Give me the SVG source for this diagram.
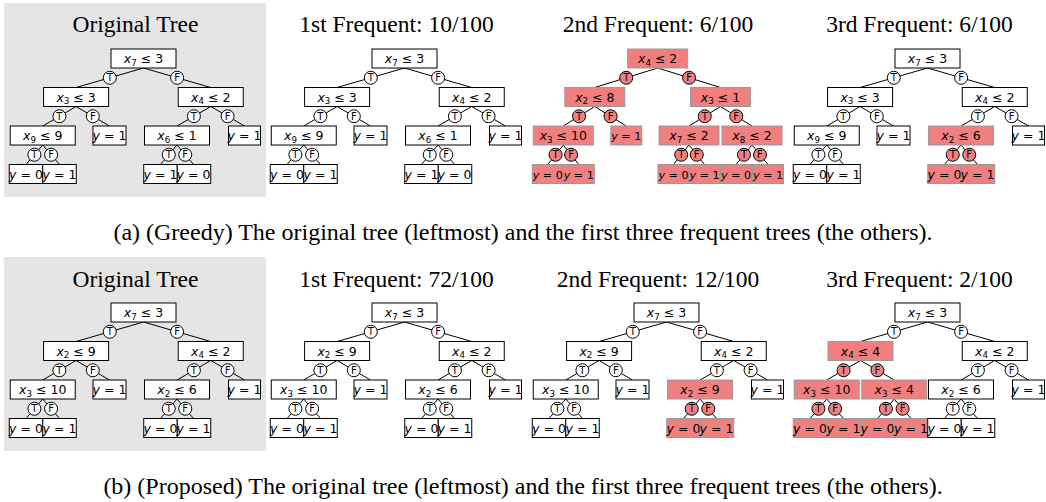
<svg xmlns="http://www.w3.org/2000/svg" width="1046" height="502" viewBox="0 0 1046 502">
<defs>
<style>
.bg{fill:#e5e5e5}
.bx{fill:#fff;stroke:#000;stroke-width:1}
.rb{fill:#f08080;stroke:#999;stroke-width:1}
.c{fill:#fff;stroke:#000;stroke-width:1}
.rc{fill:#f08080;stroke:#000;stroke-width:1}
.ln{stroke:#000;stroke-width:1}
.t{font-family:"DejaVu Sans",sans-serif;font-size:12.5px;text-anchor:middle;fill:#000}
.tn{font-size:11.2px}
.i{font-style:italic}
.s{font-size:8.7px}
.lb{font-family:"DejaVu Sans",sans-serif;font-size:10px;text-anchor:middle;fill:#000}
.ti{font-family:"Liberation Serif","Times New Roman",serif;font-size:23.5px;text-anchor:middle;fill:#000}
.cap{font-family:"Liberation Serif","Times New Roman",serif;font-size:24px;text-anchor:middle;fill:#000}
</style>
<g id="std-edges">
<line class="ln" x1="143.5" y1="68" x2="76.1" y2="87.5"/><line class="ln" x1="143.5" y1="68" x2="210.75" y2="87.5"/>
<line class="ln" x1="76.1" y1="106.5" x2="42.75" y2="126"/><line class="ln" x1="76.1" y1="106.5" x2="109.5" y2="126"/>
<line class="ln" x1="210.75" y1="106.5" x2="177" y2="126"/><line class="ln" x1="210.75" y1="106.5" x2="244.5" y2="126"/>
<line class="ln" x1="42.75" y1="145" x2="26" y2="164.5"/><line class="ln" x1="42.75" y1="145" x2="59.5" y2="164.5"/>
<line class="ln" x1="177" y1="145" x2="160.5" y2="164.5"/><line class="ln" x1="177" y1="145" x2="193.5" y2="164.5"/>
</g>
</defs>
<rect class="bg" x="4" y="3" width="262" height="194"/>
<rect class="bg" x="4" y="257" width="262" height="194"/>
<g id="titles">
<text class="ti" x="135.5" y="32">Original Tree</text>
<text class="ti" x="396.5" y="32">1st Frequent: 10/100</text>
<text class="ti" x="658" y="32">2nd Frequent: 6/100</text>
<text class="ti" x="919.5" y="32">3rd Frequent: 6/100</text>
<text class="ti" x="135.5" y="286.5">Original Tree</text>
<text class="ti" x="396.5" y="286.5">1st Frequent: 72/100</text>
<text class="ti" x="658" y="286.5">2nd Frequent: 12/100</text>
<text class="ti" x="919.5" y="286.5">3rd Frequent: 2/100</text>
<text class="cap" x="523" y="240">(a) (Greedy) The original tree (leftmost) and the first three frequent trees (the others).</text>
<text class="cap" x="523" y="494">(b) (Proposed) The original tree (leftmost) and the first three frequent trees (the others).</text>
</g>

<!-- Panel A1 -->
<g id="panel-a1">
<g id="a1-connectors">
<use href="#std-edges"/>
<circle class="c" cx="109.8" cy="77.75" r="6.5"/><text class="lb" x="109.8" y="81.4">T</text>
<circle class="c" cx="177.1" cy="77.75" r="6.5"/><text class="lb" x="177.1" y="81.4">F</text>
<circle class="c" cx="59.4" cy="116.25" r="6.5"/><text class="lb" x="59.4" y="119.9">T</text>
<circle class="c" cx="92.8" cy="116.25" r="6.5"/><text class="lb" x="92.8" y="119.9">F</text>
<circle class="c" cx="193.9" cy="116.25" r="6.5"/><text class="lb" x="193.9" y="119.9">T</text>
<circle class="c" cx="227.6" cy="116.25" r="6.5"/><text class="lb" x="227.6" y="119.9">F</text>
<circle class="c" cx="34.4" cy="154.75" r="6.5"/><text class="lb" x="34.4" y="158.4">T</text>
<circle class="c" cx="51.1" cy="154.75" r="6.5"/><text class="lb" x="51.1" y="158.4">F</text>
<circle class="c" cx="168.75" cy="154.75" r="6.5"/><text class="lb" x="168.75" y="158.4">T</text>
<circle class="c" cx="185.25" cy="154.75" r="6.5"/><text class="lb" x="185.25" y="158.4">F</text>
</g>
<g id="a1-root"><rect class="bx" x="111" y="49" width="65" height="19"/><text class="t" x="143.5" y="63"><tspan class="i">x</tspan><tspan class="s" dy="2.5">7</tspan><tspan dy="-2.5"> ≤ 3</tspan></text></g>
<g id="a1-n1"><rect class="bx" x="43.6" y="87.5" width="65" height="19"/><text class="t" x="76.1" y="101.5"><tspan class="i">x</tspan><tspan class="s" dy="2.5">3</tspan><tspan dy="-2.5"> ≤ 3</tspan></text></g>
<g id="a1-n2"><rect class="bx" x="178.25" y="87.5" width="65" height="19"/><text class="t" x="210.75" y="101.5"><tspan class="i">x</tspan><tspan class="s" dy="2.5">4</tspan><tspan dy="-2.5"> ≤ 2</tspan></text></g>
<g id="a1-n3"><rect class="bx" x="10.25" y="126" width="65" height="19"/><text class="t" x="42.75" y="140"><tspan class="i">x</tspan><tspan class="s" dy="2.5">9</tspan><tspan dy="-2.5"> ≤ 9</tspan></text></g>
<g id="a1-n4"><rect class="bx" x="93" y="126" width="33" height="19"/><text class="t" x="109.5" y="140"><tspan class="i">y</tspan> = 1</text></g>
<g id="a1-n5"><rect class="bx" x="144.5" y="126" width="65" height="19"/><text class="t" x="177" y="140"><tspan class="i">x</tspan><tspan class="s" dy="2.5">6</tspan><tspan dy="-2.5"> ≤ 1</tspan></text></g>
<g id="a1-n6"><rect class="bx" x="228.5" y="126" width="32" height="19"/><text class="t" x="244.5" y="140"><tspan class="i">y</tspan> = 1</text></g>
<g id="a1-n7"><rect class="bx" x="9.25" y="164.5" width="33.5" height="19"/><text class="t" x="26" y="178.5"><tspan class="i">y</tspan> = 0</text></g>
<g id="a1-n8"><rect class="bx" x="42.75" y="164.5" width="33.5" height="19"/><text class="t" x="59.5" y="178.5"><tspan class="i">y</tspan> = 1</text></g>
<g id="a1-n9"><rect class="bx" x="143.75" y="164.5" width="33.5" height="19"/><text class="t" x="160.5" y="178.5"><tspan class="i">y</tspan> = 1</text></g>
<g id="a1-n10"><rect class="bx" x="177.25" y="164.5" width="33.5" height="19"/><text class="t" x="193.5" y="178.5"><tspan class="i">y</tspan> = 0</text></g>
</g>

<!-- Panel A2 -->
<g id="panel-a2" transform="translate(261,0)">
<g id="a2-connectors">
<use href="#std-edges"/>
<circle class="c" cx="109.8" cy="77.75" r="6.5"/><text class="lb" x="109.8" y="81.4">T</text>
<circle class="c" cx="177.1" cy="77.75" r="6.5"/><text class="lb" x="177.1" y="81.4">F</text>
<circle class="c" cx="59.4" cy="116.25" r="6.5"/><text class="lb" x="59.4" y="119.9">T</text>
<circle class="c" cx="92.8" cy="116.25" r="6.5"/><text class="lb" x="92.8" y="119.9">F</text>
<circle class="c" cx="193.9" cy="116.25" r="6.5"/><text class="lb" x="193.9" y="119.9">T</text>
<circle class="c" cx="227.6" cy="116.25" r="6.5"/><text class="lb" x="227.6" y="119.9">F</text>
<circle class="c" cx="34.4" cy="154.75" r="6.5"/><text class="lb" x="34.4" y="158.4">T</text>
<circle class="c" cx="51.1" cy="154.75" r="6.5"/><text class="lb" x="51.1" y="158.4">F</text>
<circle class="c" cx="168.75" cy="154.75" r="6.5"/><text class="lb" x="168.75" y="158.4">T</text>
<circle class="c" cx="185.25" cy="154.75" r="6.5"/><text class="lb" x="185.25" y="158.4">F</text>
</g>
<g id="a2-root"><rect class="bx" x="111" y="49" width="65" height="19"/><text class="t" x="143.5" y="63"><tspan class="i">x</tspan><tspan class="s" dy="2.5">7</tspan><tspan dy="-2.5"> ≤ 3</tspan></text></g>
<g id="a2-n1"><rect class="bx" x="43.6" y="87.5" width="65" height="19"/><text class="t" x="76.1" y="101.5"><tspan class="i">x</tspan><tspan class="s" dy="2.5">3</tspan><tspan dy="-2.5"> ≤ 3</tspan></text></g>
<g id="a2-n2"><rect class="bx" x="178.25" y="87.5" width="65" height="19"/><text class="t" x="210.75" y="101.5"><tspan class="i">x</tspan><tspan class="s" dy="2.5">4</tspan><tspan dy="-2.5"> ≤ 2</tspan></text></g>
<g id="a2-n3"><rect class="bx" x="10.25" y="126" width="65" height="19"/><text class="t" x="42.75" y="140"><tspan class="i">x</tspan><tspan class="s" dy="2.5">9</tspan><tspan dy="-2.5"> ≤ 9</tspan></text></g>
<g id="a2-n4"><rect class="bx" x="93" y="126" width="33" height="19"/><text class="t" x="109.5" y="140"><tspan class="i">y</tspan> = 1</text></g>
<g id="a2-n5"><rect class="bx" x="144.5" y="126" width="65" height="19"/><text class="t" x="177" y="140"><tspan class="i">x</tspan><tspan class="s" dy="2.5">6</tspan><tspan dy="-2.5"> ≤ 1</tspan></text></g>
<g id="a2-n6"><rect class="bx" x="228.5" y="126" width="32" height="19"/><text class="t" x="244.5" y="140"><tspan class="i">y</tspan> = 1</text></g>
<g id="a2-n7"><rect class="bx" x="9.25" y="164.5" width="33.5" height="19"/><text class="t" x="26" y="178.5"><tspan class="i">y</tspan> = 0</text></g>
<g id="a2-n8"><rect class="bx" x="42.75" y="164.5" width="33.5" height="19"/><text class="t" x="59.5" y="178.5"><tspan class="i">y</tspan> = 1</text></g>
<g id="a2-n9"><rect class="bx" x="143.75" y="164.5" width="33.5" height="19"/><text class="t" x="160.5" y="178.5"><tspan class="i">y</tspan> = 1</text></g>
<g id="a2-n10"><rect class="bx" x="177.25" y="164.5" width="33.5" height="19"/><text class="t" x="193.5" y="178.5"><tspan class="i">y</tspan> = 0</text></g>
</g>

<!-- Panel A3 (all red) -->
<g id="panel-a3">
<g id="a3-connectors">
<line class="ln" x1="657.65" y1="68" x2="594.8" y2="87.5"/><line class="ln" x1="657.65" y1="68" x2="720.5" y2="87.5"/>
<line class="ln" x1="594.8" y1="106.5" x2="563.3" y2="126"/><line class="ln" x1="594.8" y1="106.5" x2="626.3" y2="126"/>
<line class="ln" x1="720.5" y1="106.5" x2="689" y2="126"/><line class="ln" x1="720.5" y1="106.5" x2="752" y2="126"/>
<line class="ln" x1="563.3" y1="145" x2="547.8" y2="164.5"/><line class="ln" x1="563.3" y1="145" x2="578.8" y2="164.5"/>
<line class="ln" x1="689" y1="145" x2="673.5" y2="164.5"/><line class="ln" x1="689" y1="145" x2="704.5" y2="164.5"/>
<line class="ln" x1="752" y1="145" x2="736" y2="164.5"/><line class="ln" x1="752" y1="145" x2="768" y2="164.5"/>
<circle class="rc" cx="626.2" cy="77.75" r="6.5"/><text class="lb" x="626.2" y="81.4">T</text>
<circle class="rc" cx="689.1" cy="77.75" r="6.5"/><text class="lb" x="689.1" y="81.4">F</text>
<circle class="rc" cx="579.05" cy="116.25" r="6.5"/><text class="lb" x="579.05" y="119.9">T</text>
<circle class="rc" cx="610.55" cy="116.25" r="6.5"/><text class="lb" x="610.55" y="119.9">F</text>
<circle class="rc" cx="704.75" cy="116.25" r="6.5"/><text class="lb" x="704.75" y="119.9">T</text>
<circle class="rc" cx="736.25" cy="116.25" r="6.5"/><text class="lb" x="736.25" y="119.9">F</text>
<circle class="rc" cx="555.55" cy="154.75" r="6.5"/><text class="lb" x="555.55" y="158.4">T</text>
<circle class="rc" cx="571.05" cy="154.75" r="6.5"/><text class="lb" x="571.05" y="158.4">F</text>
<circle class="rc" cx="681.25" cy="154.75" r="6.5"/><text class="lb" x="681.25" y="158.4">T</text>
<circle class="rc" cx="696.75" cy="154.75" r="6.5"/><text class="lb" x="696.75" y="158.4">F</text>
<circle class="rc" cx="744" cy="154.75" r="6.5"/><text class="lb" x="744" y="158.4">T</text>
<circle class="rc" cx="760" cy="154.75" r="6.5"/><text class="lb" x="760" y="158.4">F</text>
</g>
<g id="a3-root"><rect class="rb" x="627.65" y="49" width="60" height="19"/><text class="t" x="657.65" y="63"><tspan class="i">x</tspan><tspan class="s" dy="2.5">4</tspan><tspan dy="-2.5"> ≤ 2</tspan></text></g>
<g id="a3-n1"><rect class="rb" x="564.8" y="87.5" width="60" height="19"/><text class="t" x="594.8" y="101.5"><tspan class="i">x</tspan><tspan class="s" dy="2.5">2</tspan><tspan dy="-2.5"> ≤ 8</tspan></text></g>
<g id="a3-n2"><rect class="rb" x="690.5" y="87.5" width="60" height="19"/><text class="t" x="720.5" y="101.5"><tspan class="i">x</tspan><tspan class="s" dy="2.5">3</tspan><tspan dy="-2.5"> ≤ 1</tspan></text></g>
<g id="a3-n3"><rect class="rb" x="533.3" y="126" width="60" height="19"/><text class="t" x="563.3" y="140"><tspan class="i">x</tspan><tspan class="s" dy="2.5">3</tspan><tspan dy="-2.5"> ≤ 10</tspan></text></g>
<g id="a3-n4"><rect class="rb" x="610.8" y="126" width="31" height="19"/><text class="t tn" x="626.3" y="140"><tspan class="i">y</tspan> = 1</text></g>
<g id="a3-n5"><rect class="rb" x="659" y="126" width="60" height="19"/><text class="t" x="689" y="140"><tspan class="i">x</tspan><tspan class="s" dy="2.5">7</tspan><tspan dy="-2.5"> ≤ 2</tspan></text></g>
<g id="a3-n6"><rect class="rb" x="722" y="126" width="60" height="19"/><text class="t" x="752" y="140"><tspan class="i">x</tspan><tspan class="s" dy="2.5">8</tspan><tspan dy="-2.5"> ≤ 2</tspan></text></g>
<g id="a3-n7"><rect class="rb" x="532.3" y="164.5" width="31" height="19"/><text class="t tn" x="547.8" y="178.5"><tspan class="i">y</tspan> = 0</text></g>
<g id="a3-n8"><rect class="rb" x="563.3" y="164.5" width="31" height="19"/><text class="t tn" x="578.8" y="178.5"><tspan class="i">y</tspan> = 1</text></g>
<g id="a3-n9"><rect class="rb" x="658" y="164.5" width="31" height="19"/><text class="t tn" x="673.5" y="178.5"><tspan class="i">y</tspan> = 0</text></g>
<g id="a3-n10"><rect class="rb" x="689" y="164.5" width="31" height="19"/><text class="t tn" x="704.5" y="178.5"><tspan class="i">y</tspan> = 1</text></g>
<g id="a3-n11"><rect class="rb" x="720.5" y="164.5" width="31" height="19"/><text class="t tn" x="736" y="178.5"><tspan class="i">y</tspan> = 0</text></g>
<g id="a3-n12"><rect class="rb" x="752.5" y="164.5" width="31" height="19"/><text class="t tn" x="768" y="178.5"><tspan class="i">y</tspan> = 1</text></g>
</g>

<!-- Panel A4 -->
<g id="panel-a4" transform="translate(784,0)">
<g id="a4-connectors">
<use href="#std-edges"/>
<circle class="c" cx="109.8" cy="77.75" r="6.5"/><text class="lb" x="109.8" y="81.4">T</text>
<circle class="c" cx="177.1" cy="77.75" r="6.5"/><text class="lb" x="177.1" y="81.4">F</text>
<circle class="c" cx="59.4" cy="116.25" r="6.5"/><text class="lb" x="59.4" y="119.9">T</text>
<circle class="c" cx="92.8" cy="116.25" r="6.5"/><text class="lb" x="92.8" y="119.9">F</text>
<circle class="c" cx="193.9" cy="116.25" r="6.5"/><text class="lb" x="193.9" y="119.9">T</text>
<circle class="c" cx="227.6" cy="116.25" r="6.5"/><text class="lb" x="227.6" y="119.9">F</text>
<circle class="c" cx="34.4" cy="154.75" r="6.5"/><text class="lb" x="34.4" y="158.4">T</text>
<circle class="c" cx="51.1" cy="154.75" r="6.5"/><text class="lb" x="51.1" y="158.4">F</text>
<circle class="rc" cx="168.75" cy="154.75" r="6.5"/><text class="lb" x="168.75" y="158.4">T</text>
<circle class="rc" cx="185.25" cy="154.75" r="6.5"/><text class="lb" x="185.25" y="158.4">F</text>
</g>
<g id="a4-root"><rect class="bx" x="111" y="49" width="65" height="19"/><text class="t" x="143.5" y="63"><tspan class="i">x</tspan><tspan class="s" dy="2.5">7</tspan><tspan dy="-2.5"> ≤ 3</tspan></text></g>
<g id="a4-n1"><rect class="bx" x="43.6" y="87.5" width="65" height="19"/><text class="t" x="76.1" y="101.5"><tspan class="i">x</tspan><tspan class="s" dy="2.5">3</tspan><tspan dy="-2.5"> ≤ 3</tspan></text></g>
<g id="a4-n2"><rect class="bx" x="178.25" y="87.5" width="65" height="19"/><text class="t" x="210.75" y="101.5"><tspan class="i">x</tspan><tspan class="s" dy="2.5">4</tspan><tspan dy="-2.5"> ≤ 2</tspan></text></g>
<g id="a4-n3"><rect class="bx" x="10.25" y="126" width="65" height="19"/><text class="t" x="42.75" y="140"><tspan class="i">x</tspan><tspan class="s" dy="2.5">9</tspan><tspan dy="-2.5"> ≤ 9</tspan></text></g>
<g id="a4-n4"><rect class="bx" x="93" y="126" width="33" height="19"/><text class="t" x="109.5" y="140"><tspan class="i">y</tspan> = 1</text></g>
<g id="a4-n5"><rect class="rb" x="144.5" y="126" width="65" height="19"/><text class="t" x="177" y="140"><tspan class="i">x</tspan><tspan class="s" dy="2.5">2</tspan><tspan dy="-2.5"> ≤ 6</tspan></text></g>
<g id="a4-n6"><rect class="bx" x="228.5" y="126" width="32" height="19"/><text class="t" x="244.5" y="140"><tspan class="i">y</tspan> = 1</text></g>
<g id="a4-n7"><rect class="bx" x="9.25" y="164.5" width="33.5" height="19"/><text class="t" x="26" y="178.5"><tspan class="i">y</tspan> = 0</text></g>
<g id="a4-n8"><rect class="bx" x="42.75" y="164.5" width="33.5" height="19"/><text class="t" x="59.5" y="178.5"><tspan class="i">y</tspan> = 1</text></g>
<g id="a4-n9"><rect class="rb" x="143.75" y="164.5" width="33.5" height="19"/><text class="t" x="160.5" y="178.5"><tspan class="i">y</tspan> = 0</text></g>
<g id="a4-n10"><rect class="rb" x="177.25" y="164.5" width="33.5" height="19"/><text class="t" x="193.5" y="178.5"><tspan class="i">y</tspan> = 1</text></g>
</g>

<!-- Panel B1 -->
<g id="panel-b1" transform="translate(0,254)">
<g id="b1-connectors">
<use href="#std-edges"/>
<circle class="c" cx="109.8" cy="77.75" r="6.5"/><text class="lb" x="109.8" y="81.4">T</text>
<circle class="c" cx="177.1" cy="77.75" r="6.5"/><text class="lb" x="177.1" y="81.4">F</text>
<circle class="c" cx="59.4" cy="116.25" r="6.5"/><text class="lb" x="59.4" y="119.9">T</text>
<circle class="c" cx="92.8" cy="116.25" r="6.5"/><text class="lb" x="92.8" y="119.9">F</text>
<circle class="c" cx="193.9" cy="116.25" r="6.5"/><text class="lb" x="193.9" y="119.9">T</text>
<circle class="c" cx="227.6" cy="116.25" r="6.5"/><text class="lb" x="227.6" y="119.9">F</text>
<circle class="c" cx="34.4" cy="154.75" r="6.5"/><text class="lb" x="34.4" y="158.4">T</text>
<circle class="c" cx="51.1" cy="154.75" r="6.5"/><text class="lb" x="51.1" y="158.4">F</text>
<circle class="c" cx="168.75" cy="154.75" r="6.5"/><text class="lb" x="168.75" y="158.4">T</text>
<circle class="c" cx="185.25" cy="154.75" r="6.5"/><text class="lb" x="185.25" y="158.4">F</text>
</g>
<g id="b1-root"><rect class="bx" x="111" y="49" width="65" height="19"/><text class="t" x="143.5" y="63"><tspan class="i">x</tspan><tspan class="s" dy="2.5">7</tspan><tspan dy="-2.5"> ≤ 3</tspan></text></g>
<g id="b1-n1"><rect class="bx" x="43.6" y="87.5" width="65" height="19"/><text class="t" x="76.1" y="101.5"><tspan class="i">x</tspan><tspan class="s" dy="2.5">2</tspan><tspan dy="-2.5"> ≤ 9</tspan></text></g>
<g id="b1-n2"><rect class="bx" x="178.25" y="87.5" width="65" height="19"/><text class="t" x="210.75" y="101.5"><tspan class="i">x</tspan><tspan class="s" dy="2.5">4</tspan><tspan dy="-2.5"> ≤ 2</tspan></text></g>
<g id="b1-n3"><rect class="bx" x="10.25" y="126" width="65" height="19"/><text class="t" x="42.75" y="140"><tspan class="i">x</tspan><tspan class="s" dy="2.5">3</tspan><tspan dy="-2.5"> ≤ 10</tspan></text></g>
<g id="b1-n4"><rect class="bx" x="93" y="126" width="33" height="19"/><text class="t" x="109.5" y="140"><tspan class="i">y</tspan> = 1</text></g>
<g id="b1-n5"><rect class="bx" x="144.5" y="126" width="65" height="19"/><text class="t" x="177" y="140"><tspan class="i">x</tspan><tspan class="s" dy="2.5">2</tspan><tspan dy="-2.5"> ≤ 6</tspan></text></g>
<g id="b1-n6"><rect class="bx" x="228.5" y="126" width="32" height="19"/><text class="t" x="244.5" y="140"><tspan class="i">y</tspan> = 1</text></g>
<g id="b1-n7"><rect class="bx" x="9.25" y="164.5" width="33.5" height="19"/><text class="t" x="26" y="178.5"><tspan class="i">y</tspan> = 0</text></g>
<g id="b1-n8"><rect class="bx" x="42.75" y="164.5" width="33.5" height="19"/><text class="t" x="59.5" y="178.5"><tspan class="i">y</tspan> = 1</text></g>
<g id="b1-n9"><rect class="bx" x="143.75" y="164.5" width="33.5" height="19"/><text class="t" x="160.5" y="178.5"><tspan class="i">y</tspan> = 0</text></g>
<g id="b1-n10"><rect class="bx" x="177.25" y="164.5" width="33.5" height="19"/><text class="t" x="193.5" y="178.5"><tspan class="i">y</tspan> = 1</text></g>
</g>

<!-- Panel B2 -->
<g id="panel-b2" transform="translate(261,254)">
<g id="b2-connectors">
<use href="#std-edges"/>
<circle class="c" cx="109.8" cy="77.75" r="6.5"/><text class="lb" x="109.8" y="81.4">T</text>
<circle class="c" cx="177.1" cy="77.75" r="6.5"/><text class="lb" x="177.1" y="81.4">F</text>
<circle class="c" cx="59.4" cy="116.25" r="6.5"/><text class="lb" x="59.4" y="119.9">T</text>
<circle class="c" cx="92.8" cy="116.25" r="6.5"/><text class="lb" x="92.8" y="119.9">F</text>
<circle class="c" cx="193.9" cy="116.25" r="6.5"/><text class="lb" x="193.9" y="119.9">T</text>
<circle class="c" cx="227.6" cy="116.25" r="6.5"/><text class="lb" x="227.6" y="119.9">F</text>
<circle class="c" cx="34.4" cy="154.75" r="6.5"/><text class="lb" x="34.4" y="158.4">T</text>
<circle class="c" cx="51.1" cy="154.75" r="6.5"/><text class="lb" x="51.1" y="158.4">F</text>
<circle class="c" cx="168.75" cy="154.75" r="6.5"/><text class="lb" x="168.75" y="158.4">T</text>
<circle class="c" cx="185.25" cy="154.75" r="6.5"/><text class="lb" x="185.25" y="158.4">F</text>
</g>
<g id="b2-root"><rect class="bx" x="111" y="49" width="65" height="19"/><text class="t" x="143.5" y="63"><tspan class="i">x</tspan><tspan class="s" dy="2.5">7</tspan><tspan dy="-2.5"> ≤ 3</tspan></text></g>
<g id="b2-n1"><rect class="bx" x="43.6" y="87.5" width="65" height="19"/><text class="t" x="76.1" y="101.5"><tspan class="i">x</tspan><tspan class="s" dy="2.5">2</tspan><tspan dy="-2.5"> ≤ 9</tspan></text></g>
<g id="b2-n2"><rect class="bx" x="178.25" y="87.5" width="65" height="19"/><text class="t" x="210.75" y="101.5"><tspan class="i">x</tspan><tspan class="s" dy="2.5">4</tspan><tspan dy="-2.5"> ≤ 2</tspan></text></g>
<g id="b2-n3"><rect class="bx" x="10.25" y="126" width="65" height="19"/><text class="t" x="42.75" y="140"><tspan class="i">x</tspan><tspan class="s" dy="2.5">3</tspan><tspan dy="-2.5"> ≤ 10</tspan></text></g>
<g id="b2-n4"><rect class="bx" x="93" y="126" width="33" height="19"/><text class="t" x="109.5" y="140"><tspan class="i">y</tspan> = 1</text></g>
<g id="b2-n5"><rect class="bx" x="144.5" y="126" width="65" height="19"/><text class="t" x="177" y="140"><tspan class="i">x</tspan><tspan class="s" dy="2.5">2</tspan><tspan dy="-2.5"> ≤ 6</tspan></text></g>
<g id="b2-n6"><rect class="bx" x="228.5" y="126" width="32" height="19"/><text class="t" x="244.5" y="140"><tspan class="i">y</tspan> = 1</text></g>
<g id="b2-n7"><rect class="bx" x="9.25" y="164.5" width="33.5" height="19"/><text class="t" x="26" y="178.5"><tspan class="i">y</tspan> = 0</text></g>
<g id="b2-n8"><rect class="bx" x="42.75" y="164.5" width="33.5" height="19"/><text class="t" x="59.5" y="178.5"><tspan class="i">y</tspan> = 1</text></g>
<g id="b2-n9"><rect class="bx" x="143.75" y="164.5" width="33.5" height="19"/><text class="t" x="160.5" y="178.5"><tspan class="i">y</tspan> = 0</text></g>
<g id="b2-n10"><rect class="bx" x="177.25" y="164.5" width="33.5" height="19"/><text class="t" x="193.5" y="178.5"><tspan class="i">y</tspan> = 1</text></g>
</g>

<!-- Panel B3 -->
<g id="panel-b3" transform="translate(523,254)">
<g id="b3-connectors">
<use href="#std-edges"/>
<circle class="c" cx="109.8" cy="77.75" r="6.5"/><text class="lb" x="109.8" y="81.4">T</text>
<circle class="c" cx="177.1" cy="77.75" r="6.5"/><text class="lb" x="177.1" y="81.4">F</text>
<circle class="c" cx="59.4" cy="116.25" r="6.5"/><text class="lb" x="59.4" y="119.9">T</text>
<circle class="c" cx="92.8" cy="116.25" r="6.5"/><text class="lb" x="92.8" y="119.9">F</text>
<circle class="c" cx="193.9" cy="116.25" r="6.5"/><text class="lb" x="193.9" y="119.9">T</text>
<circle class="c" cx="227.6" cy="116.25" r="6.5"/><text class="lb" x="227.6" y="119.9">F</text>
<circle class="c" cx="34.4" cy="154.75" r="6.5"/><text class="lb" x="34.4" y="158.4">T</text>
<circle class="c" cx="51.1" cy="154.75" r="6.5"/><text class="lb" x="51.1" y="158.4">F</text>
<circle class="rc" cx="168.75" cy="154.75" r="6.5"/><text class="lb" x="168.75" y="158.4">T</text>
<circle class="rc" cx="185.25" cy="154.75" r="6.5"/><text class="lb" x="185.25" y="158.4">F</text>
</g>
<g id="b3-root"><rect class="bx" x="111" y="49" width="65" height="19"/><text class="t" x="143.5" y="63"><tspan class="i">x</tspan><tspan class="s" dy="2.5">7</tspan><tspan dy="-2.5"> ≤ 3</tspan></text></g>
<g id="b3-n1"><rect class="bx" x="43.6" y="87.5" width="65" height="19"/><text class="t" x="76.1" y="101.5"><tspan class="i">x</tspan><tspan class="s" dy="2.5">2</tspan><tspan dy="-2.5"> ≤ 9</tspan></text></g>
<g id="b3-n2"><rect class="bx" x="178.25" y="87.5" width="65" height="19"/><text class="t" x="210.75" y="101.5"><tspan class="i">x</tspan><tspan class="s" dy="2.5">4</tspan><tspan dy="-2.5"> ≤ 2</tspan></text></g>
<g id="b3-n3"><rect class="bx" x="10.25" y="126" width="65" height="19"/><text class="t" x="42.75" y="140"><tspan class="i">x</tspan><tspan class="s" dy="2.5">3</tspan><tspan dy="-2.5"> ≤ 10</tspan></text></g>
<g id="b3-n4"><rect class="bx" x="93" y="126" width="33" height="19"/><text class="t" x="109.5" y="140"><tspan class="i">y</tspan> = 1</text></g>
<g id="b3-n5"><rect class="rb" x="144.5" y="126" width="65" height="19"/><text class="t" x="177" y="140"><tspan class="i">x</tspan><tspan class="s" dy="2.5">2</tspan><tspan dy="-2.5"> ≤ 9</tspan></text></g>
<g id="b3-n6"><rect class="bx" x="228.5" y="126" width="32" height="19"/><text class="t" x="244.5" y="140"><tspan class="i">y</tspan> = 1</text></g>
<g id="b3-n7"><rect class="bx" x="9.25" y="164.5" width="33.5" height="19"/><text class="t" x="26" y="178.5"><tspan class="i">y</tspan> = 0</text></g>
<g id="b3-n8"><rect class="bx" x="42.75" y="164.5" width="33.5" height="19"/><text class="t" x="59.5" y="178.5"><tspan class="i">y</tspan> = 1</text></g>
<g id="b3-n9"><rect class="rb" x="143.75" y="164.5" width="33.5" height="19"/><text class="t" x="160.5" y="178.5"><tspan class="i">y</tspan> = 0</text></g>
<g id="b3-n10"><rect class="rb" x="177.25" y="164.5" width="33.5" height="19"/><text class="t" x="193.5" y="178.5"><tspan class="i">y</tspan> = 1</text></g>
</g>

<!-- Panel B4 -->
<g id="panel-b4" transform="translate(784,254)">
<g id="b4-connectors">
<line class="ln" x1="143.5" y1="68" x2="76.5" y2="87.5"/><line class="ln" x1="143.5" y1="68" x2="210.75" y2="87.5"/>
<line class="ln" x1="76.5" y1="106.5" x2="42.75" y2="126"/><line class="ln" x1="76.5" y1="106.5" x2="110.25" y2="126"/>
<line class="ln" x1="210.75" y1="106.5" x2="177" y2="126"/><line class="ln" x1="210.75" y1="106.5" x2="244.5" y2="126"/>
<line class="ln" x1="42.75" y1="145" x2="26" y2="164.5"/><line class="ln" x1="42.75" y1="145" x2="59.5" y2="164.5"/>
<line class="ln" x1="110.25" y1="145" x2="93.5" y2="164.5"/><line class="ln" x1="110.25" y1="145" x2="127" y2="164.5"/>
<line class="ln" x1="177" y1="145" x2="160.5" y2="164.5"/><line class="ln" x1="177" y1="145" x2="193.5" y2="164.5"/>
<circle class="c" cx="110" cy="77.75" r="6.5"/><text class="lb" x="110" y="81.4">T</text>
<circle class="c" cx="177.1" cy="77.75" r="6.5"/><text class="lb" x="177.1" y="81.4">F</text>
<circle class="rc" cx="59.6" cy="116.25" r="6.5"/><text class="lb" x="59.6" y="119.9">T</text>
<circle class="rc" cx="93.4" cy="116.25" r="6.5"/><text class="lb" x="93.4" y="119.9">F</text>
<circle class="c" cx="193.9" cy="116.25" r="6.5"/><text class="lb" x="193.9" y="119.9">T</text>
<circle class="c" cx="227.6" cy="116.25" r="6.5"/><text class="lb" x="227.6" y="119.9">F</text>
<circle class="rc" cx="34.4" cy="154.75" r="6.5"/><text class="lb" x="34.4" y="158.4">T</text>
<circle class="rc" cx="51.1" cy="154.75" r="6.5"/><text class="lb" x="51.1" y="158.4">F</text>
<circle class="rc" cx="101.9" cy="154.75" r="6.5"/><text class="lb" x="101.9" y="158.4">T</text>
<circle class="rc" cx="118.6" cy="154.75" r="6.5"/><text class="lb" x="118.6" y="158.4">F</text>
<circle class="c" cx="168.75" cy="154.75" r="6.5"/><text class="lb" x="168.75" y="158.4">T</text>
<circle class="c" cx="185.25" cy="154.75" r="6.5"/><text class="lb" x="185.25" y="158.4">F</text>
</g>
<g id="b4-root"><rect class="bx" x="111" y="49" width="65" height="19"/><text class="t" x="143.5" y="63"><tspan class="i">x</tspan><tspan class="s" dy="2.5">7</tspan><tspan dy="-2.5"> ≤ 3</tspan></text></g>
<g id="b4-n1"><rect class="rb" x="44" y="87.5" width="65" height="19"/><text class="t" x="76.5" y="101.5"><tspan class="i">x</tspan><tspan class="s" dy="2.5">4</tspan><tspan dy="-2.5"> ≤ 4</tspan></text></g>
<g id="b4-n2"><rect class="bx" x="178.25" y="87.5" width="65" height="19"/><text class="t" x="210.75" y="101.5"><tspan class="i">x</tspan><tspan class="s" dy="2.5">4</tspan><tspan dy="-2.5"> ≤ 2</tspan></text></g>
<g id="b4-n3"><rect class="rb" x="10.25" y="126" width="65" height="19"/><text class="t" x="42.75" y="140"><tspan class="i">x</tspan><tspan class="s" dy="2.5">3</tspan><tspan dy="-2.5"> ≤ 10</tspan></text></g>
<g id="b4-n4"><rect class="rb" x="77.75" y="126" width="65" height="19"/><text class="t" x="110.25" y="140"><tspan class="i">x</tspan><tspan class="s" dy="2.5">3</tspan><tspan dy="-2.5"> ≤ 4</tspan></text></g>
<g id="b4-n5"><rect class="bx" x="144.5" y="126" width="65" height="19"/><text class="t" x="177" y="140"><tspan class="i">x</tspan><tspan class="s" dy="2.5">2</tspan><tspan dy="-2.5"> ≤ 6</tspan></text></g>
<g id="b4-n6"><rect class="bx" x="228.5" y="126" width="32" height="19"/><text class="t" x="244.5" y="140"><tspan class="i">y</tspan> = 1</text></g>
<g id="b4-n7"><rect class="rb" x="9.25" y="164.5" width="33.5" height="19"/><text class="t" x="26" y="178.5"><tspan class="i">y</tspan> = 0</text></g>
<g id="b4-n8"><rect class="rb" x="42.75" y="164.5" width="33.5" height="19"/><text class="t" x="59.5" y="178.5"><tspan class="i">y</tspan> = 1</text></g>
<g id="b4-n9"><rect class="rb" x="76.75" y="164.5" width="33.5" height="19"/><text class="t" x="93.5" y="178.5"><tspan class="i">y</tspan> = 0</text></g>
<g id="b4-n10"><rect class="rb" x="110.25" y="164.5" width="33.5" height="19"/><text class="t" x="127" y="178.5"><tspan class="i">y</tspan> = 1</text></g>
<g id="b4-n11"><rect class="bx" x="143.75" y="164.5" width="33.5" height="19"/><text class="t" x="160.5" y="178.5"><tspan class="i">y</tspan> = 0</text></g>
<g id="b4-n12"><rect class="bx" x="177.25" y="164.5" width="33.5" height="19"/><text class="t" x="193.5" y="178.5"><tspan class="i">y</tspan> = 1</text></g>
</g>
</svg>
